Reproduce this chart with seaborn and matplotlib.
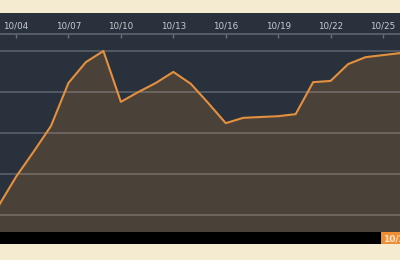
import matplotlib
matplotlib.use("Agg")
import matplotlib.pyplot as plt
import seaborn as sns
import pandas as pd
from matplotlib.patches import Rectangle

# Data (October days)
days = [3, 4, 5, 6, 7, 8, 9, 10, 11, 12, 13, 14, 15, 16, 17, 18, 19, 20, 21, 22, 23, 24, 25, 26]
values = [1.22, 1.93, 2.54, 3.17, 4.22, 4.73, 5.00, 3.76, 4.00, 4.22, 4.49, 4.20, 3.73, 3.24,
          3.37, 3.39, 3.41, 3.46, 4.24, 4.27, 4.68, 4.85, 4.90, 4.95]
tick_days = [4, 7, 10, 13, 16, 19, 22, 25]
tick_labels = ["10/%02d" % d for d in tick_days]
grid_values = [1, 2, 3, 4, 5]
current_label = "10/26"

sns.set_theme(style="dark")
plt.rcParams['font.family'] = ['DejaVu Sans']

BEIGE = "#f4ebd1"
DARK = "#29313c"
FILL = "#4a4139"
LINE = "#e4903e"

df = pd.DataFrame({"day": days, "value": values})

fig = plt.figure(figsize=(4, 2.6), dpi=100, facecolor=BEIGE)
W, H = 400, 260

def fy(py):
    return 1 - py / H

# top label strip
fig.patches.append(Rectangle((0, fy(34)), 1, fy(13) - fy(34), transform=fig.transFigure,
                             facecolor=DARK, edgecolor="none", zorder=-5))
# bottom black bar
fig.patches.append(Rectangle((0, fy(244)), 1, fy(232) - fy(244), transform=fig.transFigure,
                             facecolor="#000000", edgecolor="none", zorder=-5))
# orange current label
fig.patches.append(Rectangle((381 / W, fy(244)), 1 - 381 / W, fy(232) - fy(244), transform=fig.transFigure,
                             facecolor="#ef8d35", edgecolor="none", zorder=1))
fig.text(383 / W, fy(238.5), current_label, ha="left", va="center", fontsize=6.5,
         color="#fbe6cc", fontweight="bold", zorder=2)

ax = fig.add_axes([0, fy(232), 1, fy(34) - fy(232)])
ax.set_facecolor(DARK)

ax.fill_between(df["day"], df["value"], 0, color=FILL, zorder=1, linewidth=0)
sns.lineplot(data=df, x="day", y="value", ax=ax, color=LINE, linewidth=1.5, zorder=3)

for g in grid_values:
    ax.axhline(g, color="white", alpha=0.25, linewidth=1.1, zorder=2)

ax.set_xlim(3.084, 25.97)
ax.set_ylim((256 - 232) / 41, (256 - 34) / 41)
ax.grid(False)

ax.xaxis.tick_top()
ax.set_xticks(tick_days)
ax.set_xticklabels(tick_labels)
ax.tick_params(axis="x", direction="in", length=3, width=1, color="#6a707a",
               labelsize=6.3, labelcolor="#c9ccd1", pad=2.8, top=True, bottom=False,
               labeltop=True, labelbottom=False)
ax.set_yticks([])
ax.set_xlabel("")
ax.set_ylabel("")
for s in ["left", "right", "bottom"]:
    ax.spines[s].set_visible(False)
ax.spines["top"].set_color("#5e6570")
ax.spines["top"].set_linewidth(1.2)

fig.savefig("out.png", dpi=100, facecolor=BEIGE)
